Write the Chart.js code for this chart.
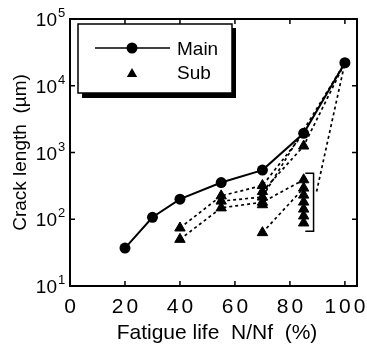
<!DOCTYPE html>
<html>
<head>
<meta charset="utf-8">
<script src="https://cdn.jsdelivr.net/npm/chart.js@4.4.1/dist/chart.umd.min.js"></script>
<style>
  html, body { margin: 0; padding: 0; background: #fff; }
</style>
</head>
<body>
<canvas id="chart" width="367" height="345"></canvas>
<script>
// Werte
const xTicks = [0, 20, 40, 60, 80, 100];
const yTicks = [10, 100, 1000, 10000, 100000];

// Hauptriss
const mainLife = [20, 30, 40, 55, 70, 85, 100];
const mainCrack = [37, 107, 200, 355, 545, 1940, 22100];

// Nebenrisse (Dreiecke)
const subLife = [40, 40, 55, 55, 55, 70, 70, 70, 70, 70, 70, 85, 85, 85, 85, 85, 85, 85, 85];
const subCrack = [74, 50, 224, 187, 148, 320, 260, 215, 180, 165, 63, 1250, 390, 293, 230, 181, 142, 112, 88];

// gestrichelte Verbindungen zwischen den Nebenrissen
const pathLife = [
  [40, 55, 70, 85],
  [40, 55, 70, 85],
  [55, 70, 100],
  [70, 85, 100],
  [70, 85],
  [89.7, 100]
];
const pathCrack = [
  [74, 224, 320, 1940],
  [50, 148, 180, 390],
  [187, 215, 22100],
  [260, 1250, 22100],
  [63, 293],
  [260, 22100]
];

// Klammer um die Gruppe bei 85 %
const bracketLife = [85.6, 88.6, 88.6, 85.6];
const bracketCrack = [490, 490, 66, 66];

const FONT = '"Liberation Sans", Arial, Helvetica, sans-serif';

function punkte(xs, ys) {
  return xs.map((v, i) => ({ x: v, y: ys[i] }));
}

const datasets = [
  {
    label: 'Main',
    data: punkte(mainLife, mainCrack),
    showLine: true,
    borderColor: '#000',
    borderWidth: 2,
    pointStyle: 'circle',
    pointRadius: 5.5,
    pointBackgroundColor: '#000',
    pointBorderColor: '#000',
    pointBorderWidth: 0
  },
  {
    label: 'Sub',
    data: punkte(subLife, subCrack),
    showLine: false,
    pointStyle: 'triangle',
    pointRadius: 6,
    pointBackgroundColor: '#000',
    pointBorderColor: '#000',
    pointBorderWidth: 1
  }
];

pathLife.forEach((xs, i) => {
  datasets.push({
    label: 'path' + i,
    data: punkte(xs, pathCrack[i]),
    showLine: true,
    borderColor: '#000',
    borderWidth: 1.7,
    borderDash: [3, 3],
    pointRadius: 0
  });
});

datasets.push({
  label: 'bracket',
  data: punkte(bracketLife, bracketCrack),
  showLine: true,
  borderColor: '#000',
  borderWidth: 1.5,
  pointRadius: 0
});

// Rahmen, Ticks nach innen, Beschriftungen und Legende
const rahmen = {
  id: 'rahmen',
  afterDraw(chart) {
    const { ctx, chartArea: a, scales } = chart;
    const x = scales.x, y = scales.y;
    ctx.save();
    ctx.strokeStyle = '#000';
    ctx.fillStyle = '#000';

    ctx.lineWidth = 2;
    ctx.strokeRect(a.left, a.top, a.right - a.left, a.bottom - a.top);

    ctx.lineWidth = 1.5;
    ctx.beginPath();
    x.ticks.forEach(t => {
      const px = x.getPixelForValue(t.value);
      ctx.moveTo(px, a.bottom); ctx.lineTo(px, a.bottom - 5);
      ctx.moveTo(px, a.top); ctx.lineTo(px, a.top + 5);
    });
    y.ticks.forEach(t => {
      const py = y.getPixelForValue(t.value);
      ctx.moveTo(a.left, py); ctx.lineTo(a.left + 5, py);
      ctx.moveTo(a.right, py); ctx.lineTo(a.right - 5, py);
    });
    ctx.stroke();

    // x-Beschriftung
    ctx.font = '21px ' + FONT;
    ctx.letterSpacing = '3px';
    ctx.textAlign = 'center';
    ctx.textBaseline = 'alphabetic';
    x.ticks.forEach(t => {
      const px = x.getPixelForValue(t.value);
      ctx.fillText(String(t.value), px + 1.5, 313);
    });
    ctx.letterSpacing = '0px';

    // y-Beschriftung 10^n
    y.ticks.forEach(t => {
      const py = y.getPixelForValue(t.value);
      const exp = Math.round(Math.log10(t.value));
      ctx.font = '19px ' + FONT;
      ctx.textAlign = 'right';
      ctx.fillText('10', 57, py + 7);
      ctx.font = '13px ' + FONT;
      ctx.textAlign = 'left';
      ctx.fillText(String(exp), 58, py - 2);
    });

    // Achsentitel
    ctx.font = '21px ' + FONT;
    ctx.textAlign = 'center';
    ctx.fillText('Fatigue life  N/Nf  (%)', 217, 339);

    ctx.save();
    ctx.translate(26, (a.top + a.bottom) / 2);
    ctx.rotate(-Math.PI / 2);
    ctx.font = '19px ' + FONT;
    ctx.fillText('Crack length  (\u00b5m)', 0, 0);
    ctx.restore();

    // Legende mit Schatten
    ctx.fillRect(82, 28, 154, 70);
    ctx.fillStyle = '#fff';
    ctx.fillRect(78, 24, 154, 69);
    ctx.fillStyle = '#000';
    ctx.lineWidth = 1.5;
    ctx.strokeRect(78, 24, 154, 69);

    ctx.lineWidth = 1.5;
    ctx.beginPath();
    ctx.moveTo(95, 48); ctx.lineTo(170, 48);
    ctx.stroke();
    ctx.beginPath();
    ctx.arc(132, 48, 5.5, 0, Math.PI * 2);
    ctx.fill();

    const r = 6;
    ctx.beginPath();
    for (let k = 0; k < 3; k++) {
      const w = k * 2 * Math.PI / 3;
      const px = 132 + Math.sin(w) * r, py = 74 - Math.cos(w) * r;
      if (k === 0) ctx.moveTo(px, py); else ctx.lineTo(px, py);
    }
    ctx.closePath();
    ctx.fill();

    ctx.font = '19px ' + FONT;
    ctx.textAlign = 'left';
    ctx.fillText(datasets[0].label, 177, 55);
    ctx.fillText(datasets[1].label, 177, 79);
    ctx.restore();
  }
};

new Chart(document.getElementById('chart').getContext('2d'), {
  type: 'scatter',
  data: { datasets: datasets },
  options: {
    responsive: false,
    animation: false,
    layout: { autoPadding: false, padding: { top: 19, right: 10, left: 0, bottom: 0 } },
    plugins: { legend: { display: false }, tooltip: { enabled: false } },
    scales: {
      x: {
        type: 'linear',
        min: 0,
        max: 104.4,
        grid: { display: false },
        border: { display: false },
        ticks: { display: false },
        afterBuildTicks: s => { s.ticks = xTicks.map(v => ({ value: v })); },
        afterFit: s => { s.height = 59; }
      },
      y: {
        type: 'logarithmic',
        min: 10,
        max: 100000,
        grid: { display: false },
        border: { display: false },
        ticks: { display: false },
        afterBuildTicks: s => { s.ticks = yTicks.map(v => ({ value: v })); },
        afterFit: s => { s.height = s.height; s.width = 70; }
      }
    }
  },
  plugins: [rahmen]
});
</script>
</body>
</html>
